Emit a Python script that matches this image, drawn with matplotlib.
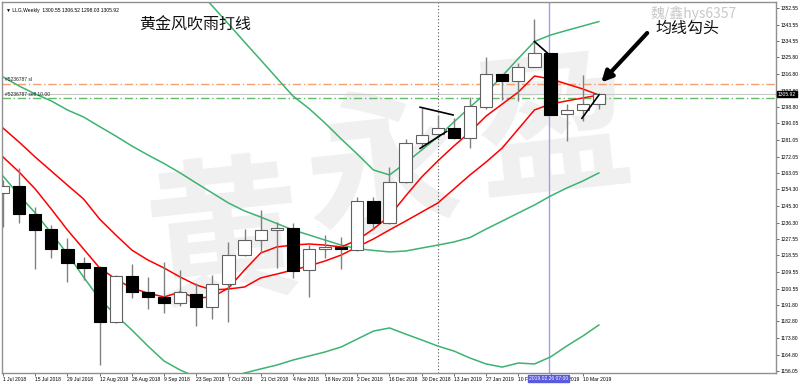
import matplotlib

matplotlib.use("Agg")
import matplotlib.pyplot as plt  # noqa: E402
import matplotlib.transforms as mtransforms  # noqa: E402
import numpy as np  # noqa: E402

plt.rcParams["font.family"] = ["Noto Sans CJK SC", "DejaVu Sans"]

# ---------------------------------------------------------------------------
# Weekly gold candles, 1 Jul 2018 .. 17 Mar 2019
# ---------------------------------------------------------------------------
opens = [1252.5, 1256.1, 1240.9, 1232.8, 1222.1, 1214.2, 1212.1, 1182.6, 1207.3, 1198.8,
         1195.8, 1192.6, 1197.4, 1190.4, 1203.0, 1218.7, 1226.9, 1232.3, 1233.5, 1210.6,
         1221.8, 1223.2, 1221.4, 1248.1, 1236.3, 1258.4, 1279.2, 1284.3, 1287.4, 1282.0,
         1299.1, 1316.8, 1313.2, 1320.7, 1328.0, 1295.0, 1297.3, 1300.55]
highs = [1259.4, 1265.7, 1244.9, 1235.0, 1228.1, 1217.5, 1212.5, 1208.0, 1213.8, 1206.6,
         1214.8, 1210.6, 1203.4, 1207.9, 1225.9, 1232.6, 1243.1, 1236.8, 1236.2, 1224.1,
         1229.6, 1228.6, 1250.4, 1250.2, 1266.2, 1281.4, 1298.2, 1294.6, 1292.8, 1304.3,
         1326.2, 1317.0, 1322.6, 1346.6, 1328.2, 1300.5, 1316.2, 1306.52]
lows = [1234.1, 1235.9, 1211.1, 1216.9, 1203.9, 1205.2, 1159.1, 1182.0, 1195.6, 1189.3,
        1187.1, 1191.1, 1180.3, 1183.9, 1182.7, 1218.2, 1219.6, 1211.5, 1206.1, 1196.1,
        1217.3, 1211.0, 1221.0, 1232.3, 1235.5, 1258.0, 1276.5, 1282.0, 1281.8, 1276.5,
        1297.7, 1302.7, 1302.3, 1320.5, 1294.4, 1280.6, 1291.3, 1298.03]
closes = [1256.1, 1240.8, 1232.3, 1222.0, 1214.2, 1211.8, 1182.6, 1207.5, 1198.8, 1195.8,
          1192.9, 1198.8, 1190.4, 1203.0, 1218.7, 1226.9, 1232.3, 1233.5, 1210.1, 1221.8,
          1223.2, 1221.8, 1248.1, 1236.3, 1258.4, 1279.2, 1283.7, 1287.7, 1282.0, 1299.5,
          1316.8, 1313.2, 1320.7, 1328.0, 1294.6, 1297.3, 1300.4, 1305.92]

# Two red moving averages
ma_fast = [1271.8, 1263.7, 1254.5, 1243.6, 1232.3, 1222.0, 1211.7, 1205.7, 1200.8, 1198.1,
           1196.0, 1198.7, 1195.4, 1196.0, 1200.8, 1210.6, 1219.8, 1223.1, 1224.1, 1224.7,
           1224.1, 1223.1, 1226.8, 1232.8, 1239.9, 1250.7, 1261.0, 1269.7, 1277.8, 1285.4,
           1294.0, 1300.5, 1307.0, 1315.7, 1314.1, 1311.4, 1308.7, 1305.4]
ma_slow = [1287.5, 1279.9, 1271.8, 1264.2, 1256.6, 1249.1, 1238.2, 1229.6, 1221.4, 1216.0,
           1211.7, 1206.8, 1202.5, 1199.8, 1200.3, 1201.4, 1206.3, 1208.4, 1210.6, 1212.8,
           1215.5, 1218.7, 1223.1, 1227.4, 1232.3, 1237.1, 1242.0, 1246.9, 1254.5, 1262.1,
           1269.1, 1276.7, 1287.0, 1297.3, 1300.5, 1302.2, 1303.8, 1305.4]

# Three green lines
green_mid = [1315.2, 1310.3, 1306.0, 1302.2, 1297.3, 1293.5, 1288.3, 1283.2, 1277.8, 1272.9,
             1268.3, 1263.2, 1257.7, 1252.3, 1246.9, 1242.6, 1239.3, 1235.8, 1232.3, 1229.6,
             1226.8, 1224.1, 1222.2, 1221.2, 1220.4, 1220.9, 1222.5, 1224.1, 1225.8, 1228.2,
             1232.8, 1237.1, 1241.5, 1245.8, 1250.7, 1255.0, 1258.8, 1263.2]
green_up = [np.nan] * 12 + [
            1363.4, 1353.6, 1343.9, 1334.1, 1324.4, 1314.6, 1304.9, 1298.1, 1290.2, 1281.6,
            1273.4, 1264.8, 1262.1, 1268.6, 1275.6, 1282.7, 1290.8, 1298.9, 1306.5, 1315.7,
            1325.2, 1334.4, 1337.9, 1340.4, 1342.8, 1345.2]
green_low = [1261.5, 1251.2, 1241.5, 1230.6, 1219.3, 1206.8, 1194.9, 1186.2, 1178.1, 1169.4,
             1161.3, 1156.4, 1152.6, 1151.0, 1152.1, 1154.8, 1157.0, 1159.1, 1161.8, 1164.0,
             1166.2, 1168.9, 1173.2, 1177.5, 1179.2, 1175.9, 1172.7, 1169.4, 1166.7, 1162.9,
             1159.7, 1158.0, 1160.2, 1159.7, 1163.5, 1169.4, 1174.8, 1180.8]

date_labels = ["1 Jul 2018", "15 Jul 2018", "29 Jul 2018", "12 Aug 2018", "26 Aug 2018",
               "9 Sep 2018", "23 Sep 2018", "7 Oct 2018", "21 Oct 2018", "4 Nov 2018",
               "18 Nov 2018", "2 Dec 2018", "16 Dec 2018", "30 Dec 2018", "13 Jan 2019",
               "27 Jan 2019", "10 Feb 2019", "24 Feb 2019", "10 Mar 2019"]
price_labels = ["1352.55", "1343.55", "1334.55", "1325.80", "1316.80", "1307.80",
                "1298.80", "1290.05", "1281.05", "1272.05", "1263.05", "1254.30",
                "1245.30", "1236.30", "1227.55", "1218.55", "1209.55", "1200.55",
                "1191.80", "1182.80", "1173.80", "1164.80", "1156.05"]

order_id = "#5236787"
sl_price = 1311.4
entry_price = 1303.6
cross_label = "2019.02.26 07:00"

# Hand-drawn trend marks (bar index, price)
marks = [
    [(25.9, 1298.8), (27.95, 1294.6)],
    [(25.9, 1276.5), (27.55, 1285.7)],
    [(33.0, 1334.4), (33.8, 1328.2)],
    [(35.95, 1292.8), (37.0, 1305.4)],
]

RED = "#ff0000"
GREEN = "#3cb371"
SMALL = ["Liberation Sans", "DejaVu Sans"]
SMALL_SIZE = 3.6

fig = plt.figure(figsize=(8, 3.85), dpi=100, facecolor="white")
ax = fig.add_axes([1.5 / 800, 12 / 385, 774.5 / 800, 371 / 385])
ax.set_facecolor("white")

x = np.arange(len(opens))
o = np.array(opens)
c = np.array(closes)
up = c >= o

# big faint watermark
for ch, xx, yy in [("黄", 13.8, 1226.0), ("永", 23.6, 1263.0), ("盈", 34.2, 1284.0)]:
    ax.text(xx, yy, ch, fontsize=112, color="#f0f0f0", ha="center", va="center",
            rotation=6, zorder=0, fontweight="bold")

ax.plot(x, green_up, color=GREEN, lw=1.1, zorder=2)
ax.plot(x, green_mid, color=GREEN, lw=1.1, zorder=2)
ax.plot(x, green_low, color=GREEN, lw=1.1, zorder=2)
ax.plot(x, ma_slow, color=RED, lw=1.1, zorder=2)
ax.plot(x, ma_fast, color=RED, lw=1.1, zorder=2)

ax.vlines(x, lows, highs, color="#808080", lw=1.0, zorder=3)
ax.bar(x[up], (c - o)[up], bottom=o[up], width=0.76, color="white",
       edgecolor="#606060", lw=0.8, zorder=4)
ax.bar(x[~up], (c - o)[~up], bottom=o[~up], width=0.76, color="black",
       edgecolor="black", lw=0.8, zorder=4)

for seg in marks:
    xs, ys = zip(*seg)
    ax.plot(xs, ys, color="black", lw=1.2, zorder=5)

# order levels + bid line
ax.axhline(sl_price, color="#f4a070", lw=1.0, ls=(0, (6, 2, 1, 2)), zorder=1)
ax.axhline(entry_price, color="#66bb66", lw=1.0, ls=(0, (6, 2, 1, 2)), zorder=1)
ax.axhline(closes[-1], color="#c8c8c8", lw=0.8, zorder=1)
ytrans = mtransforms.blended_transform_factory(ax.transAxes, ax.transData)
ax.text(0.005, sl_price + 1.2, f"{order_id} sl", transform=ytrans, fontsize=SMALL_SIZE,
        va="bottom", ha="left", color="#222222", family=SMALL)
ax.text(0.005, entry_price + 1.0, f"{order_id} sell 10.00", transform=ytrans,
        fontsize=SMALL_SIZE, va="bottom", ha="left", color="#222222", family=SMALL)

# separators
ax.axvline(27, color="#555555", lw=0.8, ls=(0, (1, 2)), zorder=1)
ax.axvline(33.9, color="#a0a0e6", lw=1.0, zorder=1)

# texts
ax.text(0.006, 0.985, "▼ LLG,Weekly  1300.55 1306.52 1298.03 1305.92", transform=ax.transAxes,
        fontsize=SMALL_SIZE, va="top", ha="left", family=SMALL)
ax.text(11.9, 1343.3, "黄金风吹雨打线", fontsize=11.5, ha="center", va="center",
        fontweight="medium", color="#111111")
ax.text(42.5, 1341.7, "均线勾头", fontsize=11.5, ha="center", va="center",
        fontweight="medium", color="#111111")
ax.text(42.9, 1349.3, "魏/鑫hys6357", fontsize=10, ha="center", va="center", color="#c8c8c8")
ax.annotate("", xy=(37.15, 1312.2), xytext=(40.0, 1339.0),
            arrowprops=dict(arrowstyle="-|>", color="black", lw=3, mutation_scale=16,
                            shrinkA=0, shrinkB=0), zorder=6)

ax.set_xlim(-0.093, 48.0)
ax.set_ylim(1154.8, 1355.8)

ax.set_xticks(x[::2][:len(date_labels)])
ax.set_xticklabels(date_labels, fontsize=SMALL_SIZE, ha="left", family=SMALL)
ax.tick_params(axis="x", length=2, pad=1, color="#555555", width=0.6)
ax.yaxis.tick_right()
ax.set_yticks([float(p) for p in price_labels])
ax.set_yticklabels(price_labels, fontsize=SMALL_SIZE, family=SMALL)
ax.tick_params(axis="y", length=2, pad=1, color="#555555", width=0.6)
for sp in ax.spines.values():
    sp.set_color("#909090")
    sp.set_linewidth(1.0)

# current price box and crosshair time label
ax.text(1.002, closes[-1], f"{closes[-1]:.2f}", transform=ytrans, fontsize=SMALL_SIZE,
        color="white", va="center", ha="left", family=SMALL, zorder=10,
        bbox=dict(facecolor="black", edgecolor="black", pad=0.6))
xtrans = mtransforms.blended_transform_factory(ax.transData, ax.transAxes)
ax.text(33.9, -0.008, cross_label, transform=xtrans, fontsize=SMALL_SIZE, color="white",
        va="top", ha="center", zorder=10, family=SMALL,
        bbox=dict(facecolor="#5a5adc", edgecolor="#5a5adc", pad=0.6))

fig.savefig("out.png", dpi=100, facecolor="white")
